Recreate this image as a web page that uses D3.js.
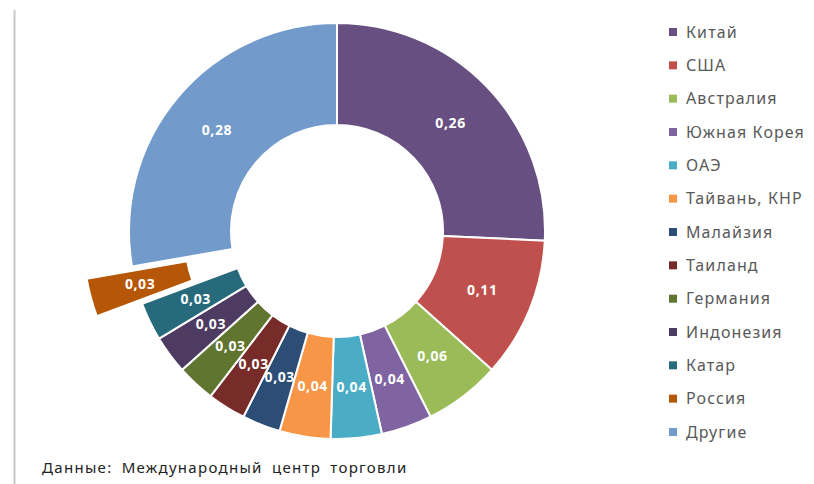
<!doctype html>
<meta charset="utf-8">
<script src="https://d3js.org/d3.v7.min.js"></script>
<style>
  body { margin: 0; background: #fff; }
  text { font-family: "Noto Sans", "DejaVu Sans", sans-serif; }
</style>
<body>
</body>
<script>
// data
var countries = ["Китай","США","Австралия","Южная Корея","ОАЭ","Тайвань, КНР","Малайзия","Таиланд","Германия","Индонезия","Катар","Россия","Другие"];
var shares = [0.26,0.11,0.06,0.04,0.04,0.04,0.03,0.03,0.03,0.03,0.03,0.03,0.28];
var colors = ["#674f81","#c0504d","#9bbb59","#8064a2","#4bacc6","#f79646","#2c4d75","#772c2a","#5f7530","#4d3b62","#276a7c","#b65708","#729aca"];
var exploded = "Россия";
var source = "Данные: Международный центр торговли";

var width = 814, height = 484;
var cx = 337, cy = 231, outerR = 208, innerR = 106;

var svg = d3.select("body").append("svg").attr("width", width).attr("height", height);

// left border line
svg.append("line").attr("x1",14.5).attr("x2",14.5).attr("y1",10).attr("y2",height)
   .attr("stroke","#c8c8c8").attr("stroke-width",2);

var pie = d3.pie().sort(null).value(function(d){ return d.v; });
var arc = d3.arc().innerRadius(innerR).outerRadius(outerR);

var data = countries.map(function(c,i){ return {name:c, v:shares[i], color:colors[i]}; });
var arcs = pie(data);

var g = svg.append("g").attr("transform","translate(" + cx + "," + cy + ")");

var slice = g.selectAll(".slice").data(arcs).enter().append("g")
   .attr("class","slice")
   .attr("transform", function(d){
      if (d.data.name != exploded) return null;
      var a = (d.startAngle + d.endAngle)/2, off = 47;
      return "translate(" + (Math.sin(a)*off) + "," + (-Math.cos(a)*off) + ")";
   });

slice.append("path")
   .attr("d", arc)
   .attr("fill", function(d){ return d.data.color; })
   .attr("stroke","#fff")
   .attr("stroke-width",2);

slice.append("text")
   .attr("transform", function(d){ return "translate(" + arc.centroid(d) + ")"; })
   .attr("text-anchor","middle")
   .attr("dy","0.35em")
   .attr("fill","#fff")
   .attr("font-size","14px")
   .attr("font-weight","bold")
   .attr("letter-spacing","0.6px")
   .text(function(d){ return d3.format(".2f")(d.data.v).replace(".", ","); });

// legend
var ly = d3.scalePoint().domain(countries).range([32, 432]);
var leg = svg.append("g").selectAll("g").data(data).enter().append("g")
   .attr("transform", function(d){ return "translate(669," + ly(d.name) + ")"; });
leg.append("rect").attr("x",0).attr("y",-4).attr("width",8).attr("height",8)
   .attr("fill", function(d){ return d.color; });
leg.append("text").attr("x",17).attr("dy","0.35em")
   .attr("font-size","16px").attr("fill","#595959")
   .attr("letter-spacing","1.1px")
   .text(function(d){ return d.name; });

svg.append("text").attr("x",42).attr("y",473)
   .attr("font-size","15px").attr("fill","#222")
   .attr("letter-spacing","1.3px").attr("word-spacing","4px")
   .text(source);
</script>
